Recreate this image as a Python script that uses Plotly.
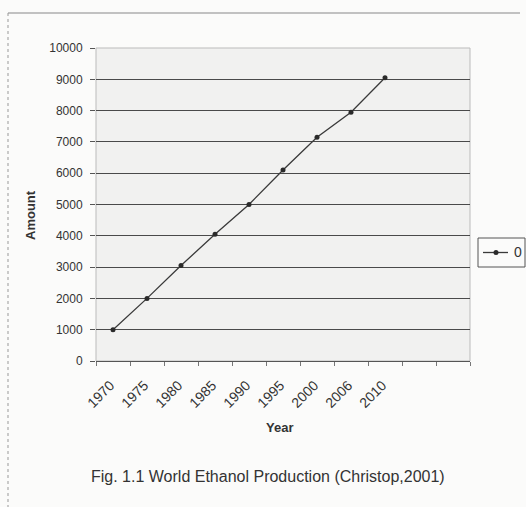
import plotly.graph_objects as go

years = ["1970", "1975", "1980", "1985", "1990", "1995", "2000", "2006", "2010"]
amounts = [1000, 2000, 3050, 4050, 5000, 6100, 7150, 7950, 9050]
series_name = "0"
y_ticks = [0, 1000, 2000, 3000, 4000, 5000, 6000, 7000, 8000, 9000, 10000]
n_slots = 11

W, H = 526, 507
L, R, T, B = 96, 470, 48, 361

x_idx = list(range(len(years)))
line_color = "#3a3a3a"
marker_color = "#2a2a2a"

fig = go.Figure()
fig.add_trace(go.Scatter(
    x=x_idx, y=amounts, mode="lines+markers", name=series_name,
    line=dict(color=line_color, width=1.3),
    marker=dict(color=marker_color, size=5, symbol="circle"),
    showlegend=False,
))

def px_x(p):
    return (p - L) / (R - L)

def px_y(p):
    return (B - p) / (B - T)

font = "Liberation Sans, Arial, sans-serif"

fig.update_layout(
    width=W, height=H,
    margin=dict(l=L, r=W - R, t=T, b=H - B, pad=0, autoexpand=False),
    paper_bgcolor="#fbfbfa",
    plot_bgcolor="#f1f1f0",
    font=dict(family=font, size=12, color="#333"),
    showlegend=False,
    xaxis=dict(
        range=[-0.5, n_slots - 0.5],
        tickmode="array", tickvals=x_idx,
        ticktext=[y + "\u00a0" for y in years],
        tickangle=-45, ticks="", showgrid=False, zeroline=False,
        showline=True, linecolor="#555", linewidth=1.2,
        tickfont=dict(size=14, color="#333"),
        ticklabelstandoff=7,
        minor=dict(tickmode="linear", tick0=-0.5, dtick=1, ticks="outside",
                   ticklen=4, tickcolor="#777", showgrid=False),
        automargin=False,
    ),
    yaxis=dict(
        range=[0, 10000], tickmode="array", tickvals=y_ticks,
        ticktext=[str(v) for v in y_ticks],
        ticks="outside", ticklen=5, tickcolor="#555",
        showgrid=True, gridcolor="#4a4a4a", gridwidth=1.4,
        zeroline=False, showline=False,
        tickfont=dict(size=12, color="#333"),
        ticklabelstandoff=5,
        automargin=False,
    ),
)

# plot area border (light)
fig.add_shape(type="rect", xref="paper", yref="paper", x0=0, x1=1, y0=0, y1=1,
              line=dict(color="#bbbbbb", width=1), layer="below")
# outer chart frame lines
fig.add_shape(type="line", xref="paper", yref="paper",
              x0=px_x(8), x1=px_x(520), y0=px_y(13), y1=px_y(13),
              line=dict(color="#888", width=1.2))
fig.add_shape(type="line", xref="paper", yref="paper",
              x0=px_x(8), x1=px_x(8), y0=px_y(13), y1=px_y(507),
              line=dict(color="#999", width=1, dash="dot"))

# legend (drawn manually so it does not shrink the plot area)
fig.add_shape(type="rect", xref="paper", yref="paper",
              x0=px_x(478), x1=px_x(525), y0=px_y(267), y1=px_y(238),
              line=dict(color="#555", width=1), fillcolor="#fbfbfa")
fig.add_shape(type="line", xref="paper", yref="paper",
              x0=px_x(483), x1=px_x(508), y0=px_y(252.5), y1=px_y(252.5),
              line=dict(color=line_color, width=1.3))
fig.add_shape(type="circle", xref="paper", yref="paper",
              x0=px_x(493.5), x1=px_x(498.5), y0=px_y(255), y1=px_y(250),
              line=dict(color=marker_color, width=0), fillcolor=marker_color)
fig.add_annotation(text=series_name, xref="paper", yref="paper",
                   x=px_x(512), y=px_y(252), xanchor="left", showarrow=False,
                   font=dict(size=14, color="#333"))

fig.add_annotation(text="<b>Amount</b>", xref="paper", yref="paper",
                   x=px_x(31), y=px_y(215), textangle=-90, showarrow=False,
                   xanchor="center", yanchor="middle",
                   font=dict(size=13, color="#333"))
fig.add_annotation(text="<b>Year</b>", xref="paper", yref="paper",
                   x=px_x(279), y=px_y(437), showarrow=False,
                   font=dict(size=13, color="#333"))
fig.add_annotation(text="Fig. 1.1 World Ethanol Production (Christop,2001)",
                   xref="paper", yref="paper",
                   x=px_x(268), y=px_y(487), showarrow=False,
                   font=dict(size=16, color="#333"))

fig.write_html("out.html")
